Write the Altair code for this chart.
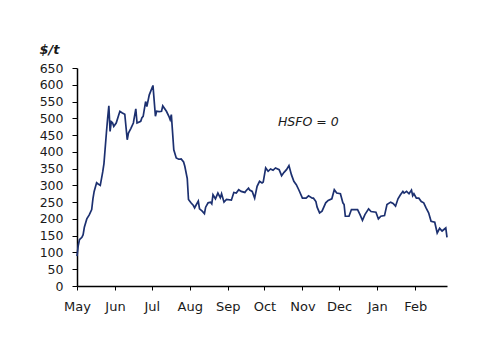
import altair as alt
import pandas as pd

# --- data ---
dates = [
    "2022-05-01", "2022-05-02", "2022-05-03", "2022-05-05", "2022-05-06", "2022-05-07",
    "2022-05-09", "2022-05-11", "2022-05-13", "2022-05-14", "2022-05-15", "2022-05-17",
    "2022-05-18", "2022-05-20", "2022-05-22", "2022-05-23", "2022-05-25", "2022-05-26",
    "2022-05-27", "2022-05-28", "2022-05-29", "2022-05-30", "2022-05-31", "2022-06-02",
    "2022-06-05", "2022-06-07", "2022-06-09", "2022-06-11", "2022-06-12", "2022-06-14",
    "2022-06-16", "2022-06-18", "2022-06-19", "2022-06-22", "2022-06-23", "2022-06-24",
    "2022-06-26", "2022-06-27", "2022-06-29", "2022-07-02", "2022-07-04", "2022-07-05",
    "2022-07-07", "2022-07-09", "2022-07-10", "2022-07-13", "2022-07-15", "2022-07-16",
    "2022-07-17", "2022-07-19", "2022-07-21", "2022-07-23", "2022-07-25", "2022-07-27",
    "2022-07-28", "2022-07-30", "2022-07-31", "2022-08-02", "2022-08-04", "2022-08-05",
    "2022-08-06", "2022-08-08", "2022-08-09", "2022-08-11", "2022-08-13", "2022-08-14",
    "2022-08-16", "2022-08-18", "2022-08-19", "2022-08-20", "2022-08-22", "2022-08-24",
    "2022-08-26", "2022-08-27", "2022-08-29", "2022-08-31", "2022-09-04", "2022-09-06",
    "2022-09-08", "2022-09-10", "2022-09-12", "2022-09-15", "2022-09-16", "2022-09-18",
    "2022-09-19", "2022-09-21", "2022-09-23", "2022-09-25", "2022-09-27", "2022-09-29",
    "2022-09-30", "2022-10-02", "2022-10-04", "2022-10-06", "2022-10-08", "2022-10-10",
    "2022-10-13", "2022-10-15", "2022-10-17", "2022-10-19", "2022-10-21", "2022-10-23",
    "2022-10-25", "2022-10-27", "2022-10-29", "2022-11-01", "2022-11-04", "2022-11-06",
    "2022-11-09", "2022-11-10", "2022-11-12", "2022-11-13", "2022-11-15", "2022-11-17",
    "2022-11-20", "2022-11-22", "2022-11-25", "2022-11-27", "2022-11-29", "2022-12-02",
    "2022-12-04", "2022-12-05", "2022-12-06", "2022-12-09", "2022-12-11", "2022-12-16",
    "2022-12-18", "2022-12-20", "2022-12-22", "2022-12-25", "2022-12-27", "2022-12-31",
    "2023-01-02", "2023-01-04", "2023-01-07", "2023-01-09", "2023-01-12", "2023-01-14",
    "2023-01-16", "2023-01-18", "2023-01-20", "2023-01-22", "2023-01-23", "2023-01-25",
    "2023-01-27", "2023-01-29", "2023-01-30", "2023-01-31", "2023-02-02", "2023-02-04",
    "2023-02-06", "2023-02-08", "2023-02-10", "2023-02-12", "2023-02-14", "2023-02-17",
    "2023-02-19", "2023-02-21", "2023-02-23", "2023-02-26", "2023-02-27",
]
values = [
    89, 120, 138, 145, 153, 175,
    200, 212, 228, 260, 282, 308,
    305, 300, 340, 365, 457, 500,
    537, 461, 490, 487, 476, 486,
    521, 516, 512, 436, 456, 470,
    486, 528, 486, 491, 502, 506,
    550, 535, 570, 598, 506, 521,
    520, 521, 537, 521, 506, 496,
    511, 406, 382, 378, 379, 370,
    357, 320, 258, 248, 240, 233,
    240, 253, 230, 224, 216, 235,
    248, 250, 245, 272, 260, 277,
    263, 275, 250, 258, 256, 279,
    277, 287, 282, 279, 284, 292,
    286, 282, 262, 297, 312, 307,
    310, 352, 342, 349, 345, 352,
    347, 329, 339, 347, 359, 332,
    312, 302, 287, 262, 262, 269,
    262, 262, 252, 235, 218, 223,
    248, 255, 260, 287, 277, 275,
    248, 243, 208, 208, 228, 228,
    213, 196, 213, 230, 222, 220,
    200, 208, 210, 243, 250, 246,
    238, 260, 272, 282, 277, 282,
    275, 286, 269, 275, 262, 262,
    252, 248, 232, 218, 193, 190,
    158, 172, 164, 173, 145,
]
month_ticks = [
    "2022-05-01", "2022-06-01", "2022-07-01", "2022-08-01", "2022-09-01",
    "2022-10-01", "2022-11-01", "2022-12-01", "2023-01-01", "2023-02-01",
]
y_ticks = [0, 50, 100, 150, 200, 250, 300, 350, 400, 450, 500, 550, 600, 650]
annot_date = ["2022-10-12"]
annot_value = [490]
annot_text = ["HSFO = 0"]

df = pd.DataFrame({"date": dates, "value": values})
ann = pd.DataFrame({"date": annot_date, "value": annot_value, "text": annot_text})


def dt(s):
    y, m, d = (int(p) for p in s.split("-"))
    return alt.DateTime(year=y, month=m, date=d, utc=True)


FONT = "DejaVu Sans"
TXT = "#1a1a1a"
NAVY = "#1c3070"

x_scale = alt.Scale(type="utc", domain=[dt(dates[0]), dt(dates[-1])], nice=False)
y_scale = alt.Scale(domain=[0, 650], nice=False)

line = alt.Chart(df).mark_line(color=NAVY, strokeWidth=1.7).encode(
    x=alt.X(
        "date:T",
        scale=x_scale,
        axis=alt.Axis(
            title=None,
            values=[dt(s) for s in month_ticks],
            tickCount=len(month_ticks) + 5,
            format="%b",
            formatType="time",
            labelFont=FONT,
            labelFontSize=13,
            labelColor=TXT,
            labelPadding=10,
            labelOverlap=False,
            tickSize=4,
            tickColor="#000000",
            domainColor="#000000",
            domainWidth=1.5,
            grid=False,
            labelFlush=False,
        ),
    ),
    y=alt.Y(
        "value:Q",
        scale=y_scale,
        axis=alt.Axis(
            values=y_ticks,
            tickCount=len(y_ticks) + 5,
            title="$/t",
            titleAngle=0,
            titleAlign="left",
            titleBaseline="middle",
            titleX=-38,
            titleY=-19,
            titleFont=FONT,
            titleFontSize=13,
            titleFontWeight="bold",
            titleFontStyle="italic",
            titleColor=TXT,
            labelFont=FONT,
            labelFontSize=12.5,
            labelColor=TXT,
            labelPadding=9,
            labelOverlap=False,
            labelBound=False,
            tickSize=5,
            tickColor="#000000",
            domainColor="#000000",
            domainWidth=1.5,
            grid=False,
        ),
    ),
)

text = alt.Chart(ann).mark_text(
    align="left",
    baseline="middle",
    font=FONT,
    fontSize=12.5,
    fontStyle="italic",
    color=TXT,
).encode(
    x=alt.X("date:T", scale=x_scale),
    y=alt.Y("value:Q", scale=y_scale),
    text="text:N",
)

chart = (
    alt.layer(line, text)
    .properties(
        width=370,
        height=218,
        autosize=alt.AutoSizeParams(type="none"),
        padding={"left": 77, "top": 68, "right": 53, "bottom": 67},
        background="white",
    )
    .configure_view(stroke=None)
)

chart.save("out.html", embed_options={"renderer": "svg", "actions": False})
